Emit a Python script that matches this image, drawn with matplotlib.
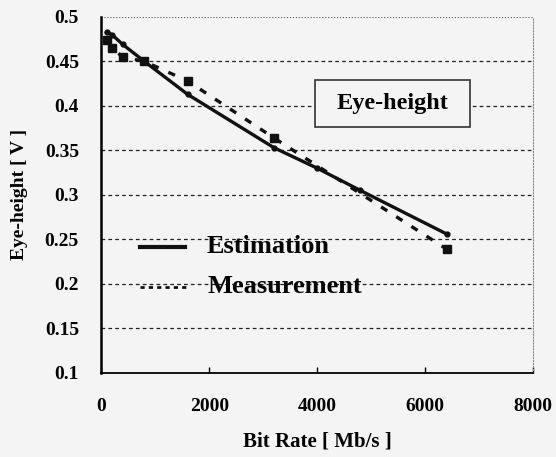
import numpy as np
import matplotlib.pyplot as plt
from matplotlib.patches import Rectangle

# Eye-height vs bit rate, estimation and measurement
est_rate = [100, 200, 400, 800, 1600, 3200, 4000, 4800, 6400]  # Mb/s
est_eye = [0.483, 0.480, 0.469, 0.450, 0.413, 0.353, 0.330, 0.305, 0.256]  # V
meas_rate = [100, 200, 400, 800, 1600, 3200, 6400]  # Mb/s
meas_eye = [0.474, 0.465, 0.455, 0.450, 0.428, 0.364, 0.239]  # V
xticks = [0, 2000, 4000, 6000, 8000]
yticks = [0.1, 0.15, 0.2, 0.25, 0.3, 0.35, 0.4, 0.45, 0.5]

plt.rcParams['font.family'] = ['Liberation Serif', 'DejaVu Serif']
plt.rcParams['font.weight'] = 'bold'

fig = plt.figure(figsize=(5.56, 4.57), dpi=100)
fig.patch.set_facecolor('#f4f4f4')
ax = fig.add_axes([0.182, 0.184, 0.777, 0.779])
ax.set_facecolor('#f4f4f4')

for y in yticks[1:-1]:
    ax.axhline(y, color='#222222', lw=0.9, ls=(0, (3, 2.5)), zorder=1)
ax.axhline(yticks[-1], color='#555555', lw=0.8, ls=':', zorder=1)  # top border

ax.plot(est_rate, est_eye, color='#111111', lw=2.4, marker='o', ms=3.5, zorder=3)
ax.plot(meas_rate, meas_eye, color='#111111', lw=2.4, ls=(0, (2.2, 3.2)),
        marker='s', ms=5.5, zorder=3)

ax.set_xlim(0, 8000)
ax.set_ylim(0.1, 0.5)
ax.set_xticks(xticks)
ax.set_xticklabels([str(v) for v in xticks])
ax.set_yticks(yticks)
ax.set_yticklabels(['%g' % v for v in yticks])
ax.tick_params(axis='x', direction='in', length=4, width=1, labelsize=14, pad=18)
ax.tick_params(axis='y', length=0, labelsize=14, pad=16)
for lab in ax.get_xticklabels() + ax.get_yticklabels():
    lab.set_fontweight('bold')

ax.spines['top'].set_visible(False)
ax.spines['right'].set_linestyle(':')
ax.spines['right'].set_color('#888888')
ax.spines['right'].set_linewidth(0.8)
ax.spines['bottom'].set_linewidth(1.3)
ax.spines['left'].set_linewidth(1.8)

ax.set_xlabel('Bit Rate [ Mb/s ]', fontsize=15, fontweight='bold', labelpad=12)
ax.set_ylabel('Eye-height [ V ]', fontsize=14, fontweight='bold', labelpad=12)

# legend drawn by hand as in the original
ax.plot([720, 1560], [0.242, 0.242], color='#111111', lw=3, clip_on=False)
ax.plot([720, 1600], [0.197, 0.197], color='#111111', lw=2, ls=(0, (1.5, 1.5)),
        clip_on=False)
ax.text(1960, 0.242, 'Estimation', fontsize=19, fontweight='bold', va='center')
ax.text(1960, 0.197, 'Measurement', fontsize=19, fontweight='bold', va='center')

ax.add_patch(Rectangle((3960, 0.376), 2870, 0.0536, fc='#f4f4f4', ec='#333333',
                       lw=1.2, zorder=5))
ax.text(5395, 0.4028, 'Eye-height', fontsize=17.5, fontweight='bold', ha='center',
        va='center', zorder=6)

fig.savefig('out.png', dpi=100, facecolor=fig.get_facecolor())
